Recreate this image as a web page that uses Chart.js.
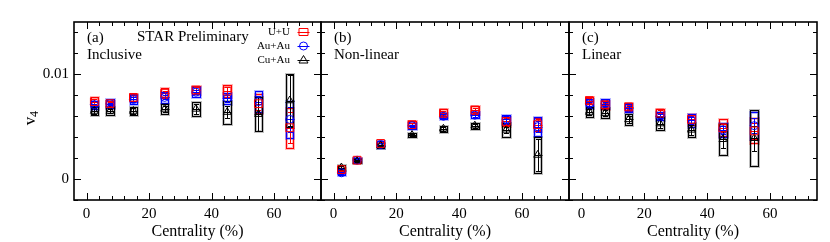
<!DOCTYPE html>
<html><head><meta charset="utf-8">
<script src="https://cdn.jsdelivr.net/npm/chart.js@4"></script>
<style>
html,body{margin:0;padding:0;background:#fff;}
#wrap{position:relative;width:830px;height:242px;background:#fff;}
canvas{position:absolute;left:0;top:0;}
</style></head><body>
<div id="wrap">
<canvas id="ca" width="830" height="242"></canvas>
<canvas id="cb" width="830" height="242"></canvas>
<canvas id="cc" width="830" height="242"></canvas>
</div>
<script>
// ---------------- data ----------------
const centrality = [2.5, 7.5, 15, 25, 35, 45, 55, 65];
const systems = ['U+U', 'Au+Au', 'Cu+Au'];
const xTickLabels = [0, 20, 40, 60];
const yTickLabels = [0, 0.01];
const panelLetters = ['(a)', '(b)', '(c)'];
const panelNames = ['Inclusive', 'Non-linear', 'Linear'];

// (a) Inclusive
const inclUU      = [0.0074, 0.0072, 0.0078, 0.0082, 0.0085, 0.0084, 0.0072, 0.0049];
const inclUUstat  = [0.0002, 0.0002, 0.0002, 0.0002, 0.0003, 0.0004, 0.0006, 0.0015];
const inclUUsys   = [0.0004, 0.0003, 0.0003, 0.0005, 0.0004, 0.0006, 0.0009, 0.0019];
const inclAuAu     = [0.0071, 0.0072, 0.0076, 0.0078, 0.0083, 0.0077, 0.0074, 0.0057];
const inclAuAustat = [0.0001, 0.0001, 0.0002, 0.0002, 0.0002, 0.0003, 0.0005, 0.0012];
const inclAuAusys  = [0.0004, 0.0004, 0.0004, 0.0005, 0.0005, 0.0005, 0.0010, 0.0018];
const inclCuAu     = [0.0065, 0.0065, 0.0065, 0.0067, 0.0067, 0.0064, 0.0062, 0.0075];
const inclCuAustat = [0.0003, 0.0002, 0.0003, 0.0003, 0.0005, 0.0006, 0.0016, 0.0024];
const inclCuAusys  = [0.0004, 0.0004, 0.0004, 0.0005, 0.0007, 0.0011, 0.0016, 0.0025];

// (b) Non-linear
const nlUU      = [0.0009, 0.0018, 0.0034, 0.0052, 0.0063, 0.0066, 0.0055, 0.0052];
const nlUUstat  = [0.0001, 0.0001, 0.0001, 0.0002, 0.0002, 0.0002, 0.0003, 0.0005];
const nlUUsys   = [0.0002, 0.0002, 0.0002, 0.0003, 0.0004, 0.0004, 0.0004, 0.0006];
const nlAuAu     = [0.0006, 0.0018, 0.0033, 0.0051, 0.0060, 0.0061, 0.0057, 0.0050];
const nlAuAustat = [0.0001, 0.0001, 0.0001, 0.0001, 0.0002, 0.0002, 0.0003, 0.0005];
const nlAuAusys  = [0.0002, 0.0002, 0.0003, 0.0003, 0.0003, 0.0003, 0.0004, 0.0009];
const nlCuAu     = [0.0011, 0.0017, 0.0032, 0.0042, 0.0048, 0.0051, 0.0047, 0.0023];
const nlCuAustat = [0.0001, 0.0001, 0.0001, 0.0001, 0.0002, 0.0002, 0.0003, 0.0015];
const nlCuAusys  = [0.0002, 0.0002, 0.0002, 0.0002, 0.0003, 0.0003, 0.0007, 0.0017];

// (c) Linear
const linUU      = [0.0075, 0.0071, 0.0069, 0.0063, 0.0057, 0.0049, 0.0046, null];
const linUUstat  = [0.0002, 0.0002, 0.0002, 0.0003, 0.0003, 0.0004, 0.0008, null];
const linUUsys   = [0.0003, 0.0004, 0.0004, 0.0004, 0.0005, 0.0008, 0.0012, null];
const linAuAu     = [0.0072, 0.0072, 0.0068, 0.0060, 0.0056, 0.0047, 0.0051, null];
const linAuAustat = [0.0002, 0.0002, 0.0002, 0.0002, 0.0003, 0.0004, 0.0007, null];
const linAuAusys  = [0.0004, 0.0004, 0.0004, 0.0004, 0.0006, 0.0007, 0.0013, null];
const linCuAu     = [0.0064, 0.0063, 0.0057, 0.0053, 0.0047, 0.0038, 0.0039, null];
const linCuAustat = [0.0003, 0.0003, 0.0003, 0.0004, 0.0005, 0.0008, 0.0012, null];
const linCuAusys  = [0.0005, 0.0005, 0.0005, 0.0006, 0.0007, 0.0015, 0.0027, null];

// ---------------- styling ----------------
const FONT = '"Liberation Serif", "Times New Roman", serif';
const COLORS = {'U+U': '#ff0000', 'Au+Au': '#0000ff', 'Cu+Au': '#000000'};
const HALO = {'U+U': 'rgba(255,0,0,0.28)', 'Au+Au': 'rgba(0,0,255,0.28)', 'Cu+Au': 'rgba(0,0,0,0.25)'};
const PSTYLE = {'U+U': ['rect', 5.5], 'Au+Au': ['circle', 4], 'Cu+Au': ['triangle', 4.5]};
const X_MIN = -4, X_MAX = 75, Y_MIN = -0.002, Y_MAX = 0.015;
const BOX_HALF = 1.2;

function makeDatasets(sets) {
  return sets.map(([name, v, st, sy]) => ({
    label: name,
    data: centrality.map((c, k) => v[k] == null ? null : {x: c, y: v[k]}).filter(p => p),
    v: v, st: st, sy: sy,
    pointStyle: PSTYLE[name][0],
    pointRadius: PSTYLE[name][1],
    pointHoverRadius: PSTYLE[name][1],
    pointBorderColor: COLORS[name],
    pointBackgroundColor: 'rgba(0,0,0,0)',
    pointBorderWidth: 1,
    borderColor: COLORS[name],
    showLine: false
  }));
}

const errPlugin = {
  id: 'errs',
  beforeDatasetsDraw(chart) {
    const ctx = chart.ctx, xs = chart.scales.x, ys = chart.scales.y, a = chart.chartArea;
    ctx.save();
    ctx.beginPath(); ctx.rect(a.left, a.top, a.right - a.left, a.bottom - a.top); ctx.clip();
    chart.data.datasets.forEach(ds => {
      const col = COLORS[ds.label], halo = HALO[ds.label];
      centrality.forEach((c, k) => {
        const v = ds.v[k]; if (v == null) return;
        const x0 = Math.round(xs.getPixelForValue(c - BOX_HALF)) + 0.5;
        const x1 = Math.round(xs.getPixelForValue(c + BOX_HALF)) + 0.5;
        const yt = Math.round(ys.getPixelForValue(v + ds.sy[k])) + 0.5;
        const yb = Math.round(ys.getPixelForValue(v - ds.sy[k])) + 0.5;
        ctx.lineWidth = 3; ctx.strokeStyle = halo; ctx.strokeRect(x0, yt, x1 - x0, yb - yt);
        ctx.lineWidth = 1; ctx.strokeStyle = col; ctx.strokeRect(x0, yt, x1 - x0, yb - yt);
      });
    });
    chart.data.datasets.forEach(ds => {
      const col = COLORS[ds.label];
      centrality.forEach((c, k) => {
        const v = ds.v[k]; if (v == null) return;
        const xc = Math.round(xs.getPixelForValue(c)) + 0.5;
        const ya = Math.round(ys.getPixelForValue(v + ds.st[k])) + 0.5;
        const yb = Math.round(ys.getPixelForValue(v - ds.st[k])) + 0.5;
        const yc = Math.round(ys.getPixelForValue(v)) + 0.5;
        ctx.strokeStyle = col; ctx.lineWidth = 1;
        ctx.beginPath();
        ctx.moveTo(xc, ya); ctx.lineTo(xc, yb);
        ctx.moveTo(xc - 2.5, ya); ctx.lineTo(xc + 2.5, ya);
        ctx.moveTo(xc - 2.5, yb); ctx.lineTo(xc + 2.5, yb);
        ctx.moveTo(xc - 4, yc); ctx.lineTo(xc + 4, yc);
        ctx.stroke();
      });
    });
    ctx.restore();
  }
};

function drawMarker(ctx, name, x, y) {
  const col = COLORS[name];
  ctx.strokeStyle = col; ctx.lineWidth = 1;
  ctx.beginPath();
  if (name === 'U+U') { ctx.rect(x - 4.5, y - 3.5, 9, 7); }
  else if (name === 'Au+Au') { ctx.arc(x, y, 4, 0, Math.PI * 2); }
  else { ctx.moveTo(x, y - 4.5); ctx.lineTo(x + 4.5, y + 3); ctx.lineTo(x - 4.5, y + 3); ctx.closePath(); }
  ctx.stroke();
  ctx.beginPath(); ctx.moveTo(x - 6, y + 0.5); ctx.lineTo(x + 6, y + 0.5); ctx.stroke();
}

const framePlugin = {
  id: 'frame',
  afterDraw(chart, args, opts) {
    const ctx = chart.ctx, xs = chart.scales.x, ys = chart.scales.y, a = chart.chartArea;
    ctx.save();
    ctx.strokeStyle = '#000'; ctx.lineWidth = 1;
    ctx.beginPath();
    for (let t = 0; t <= X_MAX; t += 4) {
      const px = Math.round(xs.getPixelForValue(t)) + 0.5;
      const L = (t % 20 === 0) ? 7 : 4;
      ctx.moveTo(px, a.bottom); ctx.lineTo(px, a.bottom - L);
      ctx.moveTo(px, a.top); ctx.lineTo(px, a.top + L);
    }
    for (let i = -1; i <= 7; i++) {
      const t = i * 0.002;
      const py = Math.round(ys.getPixelForValue(t)) + 0.5;
      const L = (i === 0 || i === 5) ? 7 : 4;
      ctx.moveTo(a.left, py); ctx.lineTo(a.left + L, py);
      ctx.moveTo(a.right, py); ctx.lineTo(a.right - L, py);
    }
    ctx.stroke();
    ctx.lineWidth = 1.6;
    ctx.strokeRect(a.left, a.top, a.right - a.left, a.bottom - a.top);

    ctx.fillStyle = '#000';
    ctx.textBaseline = 'middle'; ctx.textAlign = 'left';
    ctx.font = '15px ' + FONT;
    ctx.fillText(panelLetters[opts.idx], a.left + 13, a.top + 16);
    ctx.fillText(panelNames[opts.idx], a.left + 13, a.top + 33);
    if (opts.idx === 0) {
      ctx.fillText('STAR Preliminary', a.left + 63, a.top + 15);
      ctx.font = '11px ' + FONT; ctx.textAlign = 'right';
      const ly = [32, 46, 60];
      systems.forEach((s, i) => {
        ctx.fillText(s, 290, ly[i]);
        drawMarker(ctx, s, 303.5, ly[i]);
      });
      // y title v_4
      ctx.save();
      ctx.translate(31, 121); ctx.rotate(-Math.PI / 2);
      ctx.textAlign = 'center'; ctx.font = '17px ' + FONT;
      ctx.fillText('v', 0, 0);
      ctx.font = '12px ' + FONT; ctx.textAlign = 'left';
      ctx.fillText('4', 4, 4);
      ctx.restore();
    }
    ctx.restore();
  }
};

function makeChart(id, idx, sets, padLeft, padRight) {
  const showY = idx === 0;
  return new Chart(document.getElementById(id), {
    type: 'scatter',
    data: {datasets: makeDatasets(sets)},
    options: {
      responsive: false, animation: false, devicePixelRatio: 1,
      layout: {padding: {left: padLeft, right: padRight, top: 22, bottom: 0}},
      plugins: {legend: {display: false}, tooltip: {enabled: false}, frame: {idx: idx}},
      scales: {
        x: {
          type: 'linear', min: X_MIN, max: X_MAX,
          grid: {display: false, drawTicks: false}, border: {display: false},
          afterBuildTicks: s => { s.ticks = xTickLabels.map(v => ({value: v})); },
          afterFit: s => { s.height = 42; },
          ticks: {padding: 5, color: '#000', font: {family: FONT, size: 15}, maxRotation: 0,
                  callback: v => String(v)},
          title: {display: true, text: 'Centrality (%)', color: '#000',
                  font: {family: FONT, size: 16}, padding: {top: 0, bottom: 1}}
        },
        y: {
          type: 'linear', min: Y_MIN, max: Y_MAX, display: showY,
          grid: {display: false, drawTicks: false}, border: {display: false},
          afterBuildTicks: s => { s.ticks = yTickLabels.map(v => ({value: v})); },
          afterFit: s => { s.width = showY ? 74 : 0; },
          ticks: {padding: 5, color: '#000', font: {family: FONT, size: 15},
                  callback: v => String(v)}
        }
      }
    },
    plugins: [errPlugin, framePlugin]
  });
}

makeChart('ca', 0, [
  ['U+U', inclUU, inclUUstat, inclUUsys],
  ['Au+Au', inclAuAu, inclAuAustat, inclAuAusys],
  ['Cu+Au', inclCuAu, inclCuAustat, inclCuAusys]
], 0, 830 - 321);
makeChart('cb', 1, [
  ['U+U', nlUU, nlUUstat, nlUUsys],
  ['Au+Au', nlAuAu, nlAuAustat, nlAuAusys],
  ['Cu+Au', nlCuAu, nlCuAustat, nlCuAusys]
], 321, 830 - 569);
makeChart('cc', 2, [
  ['U+U', linUU, linUUstat, linUUsys],
  ['Au+Au', linAuAu, linAuAustat, linAuAusys],
  ['Cu+Au', linCuAu, linCuAustat, linCuAusys]
], 569, 830 - 817);
</script>
</body></html>
